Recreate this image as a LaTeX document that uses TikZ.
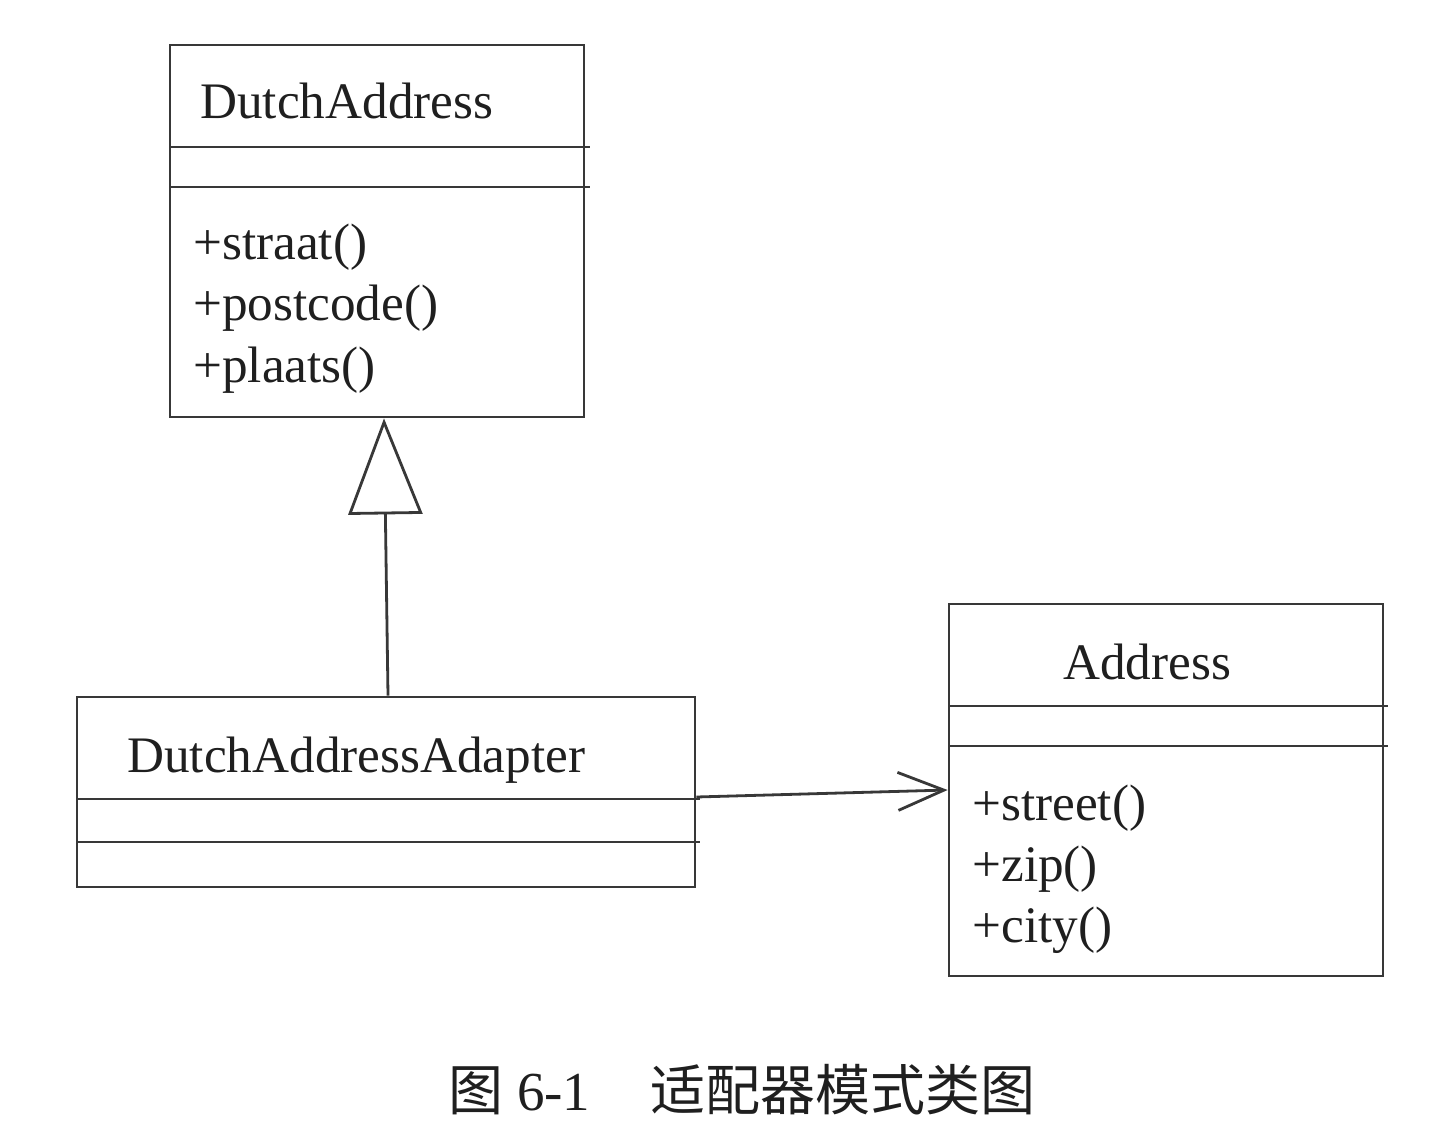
\documentclass[tikz,border=0pt]{standalone}
\usepackage{fontspec}
\setmainfont{Liberation Serif}
\newfontfamily\cjk{Noto Sans CJK SC}
\usetikzlibrary{arrows.meta}
\begin{document}
\begin{tikzpicture}[x=0.5pt,y=-0.5pt,
  umlbox/.style={draw=black!78,line width=1.4pt,inner sep=0pt,rectangle},
  sepline/.style={draw=black!78,line width=1.4pt},
  conn/.style={draw=black!78,line width=1.4pt},
  umltext/.style={anchor=base west,inner sep=0pt,text=black!88,font=\fontsize{25.6}{30}\selectfont},
  captext/.style={anchor=base west,inner sep=0pt,text=black!88,font=\fontsize{27.5}{32}\selectfont}]
\useasboundingbox[fill=white] (0,0) rectangle (1434,1134);
% class boxes
\node[umlbox,minimum width=207pt,minimum height=186pt] (dutch) at (377,231) {};
\node[umlbox,minimum width=309pt,minimum height=95pt] (adapter) at (386,792) {};
\node[umlbox,minimum width=217pt,minimum height=186pt] (address) at (1166,790) {};
% compartment lines
\draw[sepline] (170,147) -- (590,147);
\draw[sepline] (170,187) -- (590,187);
\draw[sepline] (77,799) -- (700,799);
\draw[sepline] (77,842) -- (700,842);
\draw[sepline] (949,706) -- (1388,706);
\draw[sepline] (949,746) -- (1388,746);
% texts
\node[umltext] (dname) at (200,119) {DutchAddress};
\node[umltext] (m1) at (193,260) {+straat()};
\node[umltext] (m2) at (193,321) {+postcode()};
\node[umltext] (m3) at (193,382) {+plaats()};
\node[umltext] (aname) at (127,772) {DutchAddressAdapter};
\node[umltext] (adname) at (1063,679) {Address};
\node[umltext] (n1) at (972,820) {+street()};
\node[umltext] (n2) at (972,881) {+zip()};
\node[umltext] (n3) at (972,942) {+city()};
% connectors
\draw[conn,-{Triangle[open,length=48pt,width=37pt]}] ([xshift=1pt]adapter.north) -- ([xshift=3.5pt]dutch.south);
\draw[conn,-{Straight Barb[length=23pt,width=19pt]}] ([yshift=-2.5pt]adapter.east) -- (address.west);
% caption
\node[captext] (cap) at (448,1110) {{\cjk 图} 6-1\hspace{30pt}{\cjk 适配器模式类图}};
\end{tikzpicture}
\end{document}
